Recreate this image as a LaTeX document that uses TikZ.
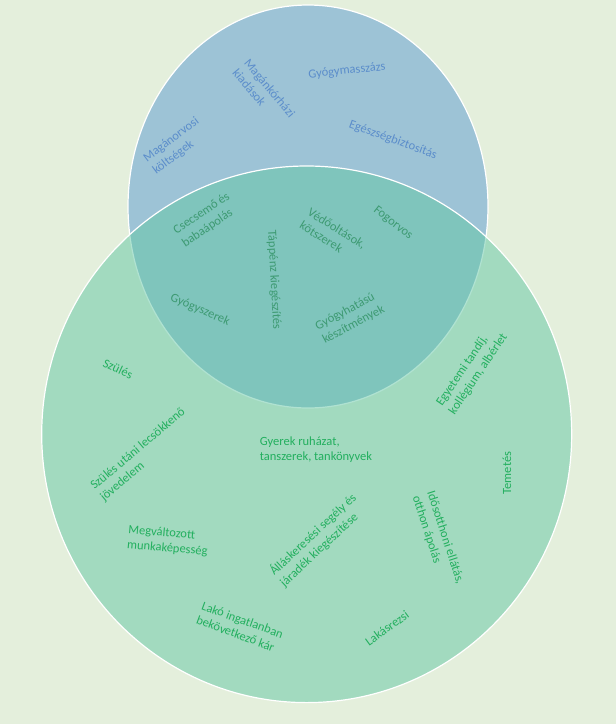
\documentclass[tikz,border=0pt]{standalone}
\usepackage{fontspec}
\setmainfont{Carlito}
\definecolor{bgc}{HTML}{E4EFDC}
\definecolor{bluec}{HTML}{9DC3D6}
\definecolor{greenc}{HTML}{62C7A4}
\definecolor{bluetxt}{HTML}{5B8DCB}
\definecolor{midtxt}{HTML}{3D9A72}
\definecolor{greentxt}{HTML}{22AF5E}
\tikzset{
  lbl/.style={font=\fontsize{12.5}{15.3}\selectfont, align=left, inner sep=0pt},
  bluelbl/.style={lbl, text=bluetxt},
  midlbl/.style={lbl, text=midtxt},
  outlbl/.style={lbl, text=greentxt},
}
\begin{document}
\begin{tikzpicture}[x=1pt,y=-1pt]
\fill[bgc] (0,0) rectangle (616,724);
\useasboundingbox (0,0) rectangle (616,724);
% circles
\draw[white, line width=1.2pt, fill=bluec] (308,206.5) ellipse [x radius=180, y radius=201.5];
\draw[white, line width=1.2pt, fill=greenc, fill opacity=0.5] (306.7,434.3) ellipse [x radius=265, y radius=268.3];
% top (blue) texts
\node[bluelbl, rotate=37] (t1) at (176,146) {Magánorvosi\\költségek};
\node[bluelbl, rotate=-50] (t2) at (264,93) {Magánkórházi\\kiadások};
\node[bluelbl, rotate=6] (t3) at (347,71) {Gyógymasszázs};
\node[bluelbl, rotate=-20] (t4) at (393,140) {Egészségbiztosítás};
% overlap texts
\node[midlbl, rotate=34] (o1) at (206,220) {Csecsemő és\\babaápolás};
\node[midlbl, rotate=-87] (o2) at (274,280) {Táppénz kiegészítés};
\node[midlbl, rotate=-32] (o3) at (333,235) {Védőoltások,\\kötszerek};
\node[midlbl, rotate=-38] (o4) at (393,223) {Fogorvos};
\node[midlbl, rotate=-23] (o5) at (200,310) {Gyógyszerek};
\node[midlbl, rotate=28] (o6) at (350,318) {Gyógyhatású\\készítmények};
% outer green texts
\node[outlbl, rotate=56] (g1) at (472,370) {Egyetemi tandíj,\\kollégium, albérlet};
\node[outlbl, rotate=90] (g2) at (507,473) {Temetés};
\node[outlbl, rotate=-72] (g3) at (438,540) {Idősotthoni ellátás,\\otthon ápolás};
\node[outlbl, rotate=-25] (g4) at (118,369) {Szülés};
\node[outlbl, rotate=40] (g5) at (143,455) {Szülés utáni lecsökkenő\\jövedelem};
\node[outlbl] (g6) at (316,450) {Gyerek ruházat,\\tanszerek, tankönyvek};
\node[outlbl, rotate=-5] (g7) at (168,541) {Megváltozott\\munkaképesség};
\node[outlbl, rotate=43] (g8) at (318,540) {Álláskeresési segély és\\járadék kiegészítése};
\node[outlbl, rotate=-20] (g9) at (240,627) {Lakó ingatlanban\\bekövetkező kár};
\node[outlbl, rotate=36] (g10) at (387,628) {Lakásrezsi};
\end{tikzpicture}
\end{document}
